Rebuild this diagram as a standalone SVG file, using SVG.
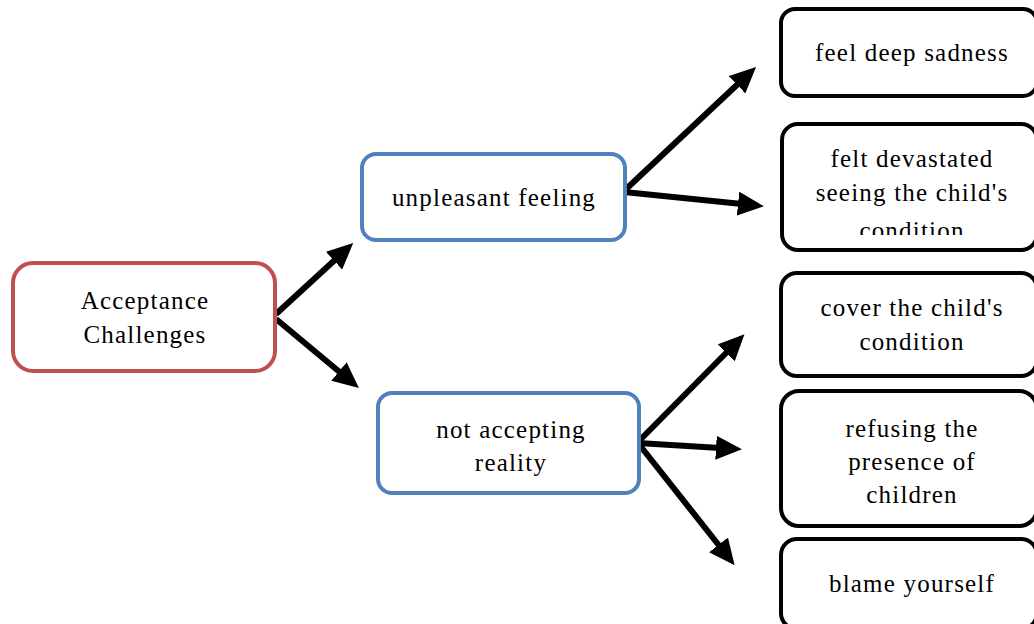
<svg xmlns="http://www.w3.org/2000/svg" width="1034" height="624" viewBox="0 0 1034 624">
<style>
.box{fill:#fff;stroke-width:4}
.red{stroke:#C0504D}
.blue{stroke:#4F81BD}
.blk{stroke:#000}
text{font-family:"Liberation Serif","DejaVu Serif",serif;font-size:25px;letter-spacing:1.2px;fill:#000;text-anchor:middle}
.conn line{stroke:#000;stroke-width:6;marker-end:url(#ah)}
</style>
<defs>
<marker id="ah" markerUnits="userSpaceOnUse" viewBox="0 0 26 24" refX="4" refY="12" markerWidth="26" markerHeight="24" orient="auto">
<path d="M0,0 L26,12 L0,24 Z" fill="#000"/>
</marker>
<clipPath id="clipDev"><rect x="781" y="123" width="253" height="112"/></clipPath>
</defs>
<rect width="1034" height="624" fill="#fff"/>
<g class="conn">
<line x1="276" y1="314" x2="337" y2="258"/>
<line x1="276" y1="319" x2="342" y2="374"/>
<line x1="624" y1="191" x2="740" y2="82"/>
<line x1="624" y1="192" x2="742" y2="204"/>
<line x1="638" y1="442" x2="729" y2="350"/>
<line x1="638" y1="443" x2="720" y2="448"/>
<line x1="638" y1="443" x2="721" y2="548"/>
</g>
<g id="acceptance">
<rect class="box red" x="13" y="263" width="262" height="108" rx="20"/>
<text x="145" y="309">Acceptance</text>
<text x="145" y="343">Challenges</text>
</g>
<g id="unpleasant">
<rect class="box blue" x="362" y="154" width="263" height="86" rx="14"/>
<text x="494" y="206">unpleasant feeling</text>
</g>
<g id="notaccepting">
<rect class="box blue" x="378" y="393" width="261" height="100" rx="14"/>
<text x="511" y="438">not accepting</text>
<text x="511" y="471">reality</text>
</g>
<g id="sadness">
<rect class="box blk" x="781" y="9" width="256" height="87" rx="14"/>
<text x="912" y="61">feel deep sadness</text>
</g>
<g id="devastated">
<rect class="box blk" x="782" y="124" width="255" height="126" rx="16"/>
<text x="912" y="167">felt devastated</text>
<text x="912" y="201">seeing the child's</text>
<text x="912" y="239" clip-path="url(#clipDev)">condition</text>
</g>
<g id="cover">
<rect class="box blk" x="781" y="273" width="256" height="103" rx="16"/>
<text x="912" y="316">cover the child's</text>
<text x="912" y="350">condition</text>
</g>
<g id="refusing">
<rect class="box blk" x="781" y="391" width="256" height="135" rx="18"/>
<text x="912" y="437">refusing the</text>
<text x="912" y="470">presence of</text>
<text x="912" y="503">children</text>
</g>
<g id="blame">
<rect class="box blk" x="781" y="539" width="256" height="90" rx="16"/>
<text x="912" y="592">blame yourself</text>
</g>
</svg>
